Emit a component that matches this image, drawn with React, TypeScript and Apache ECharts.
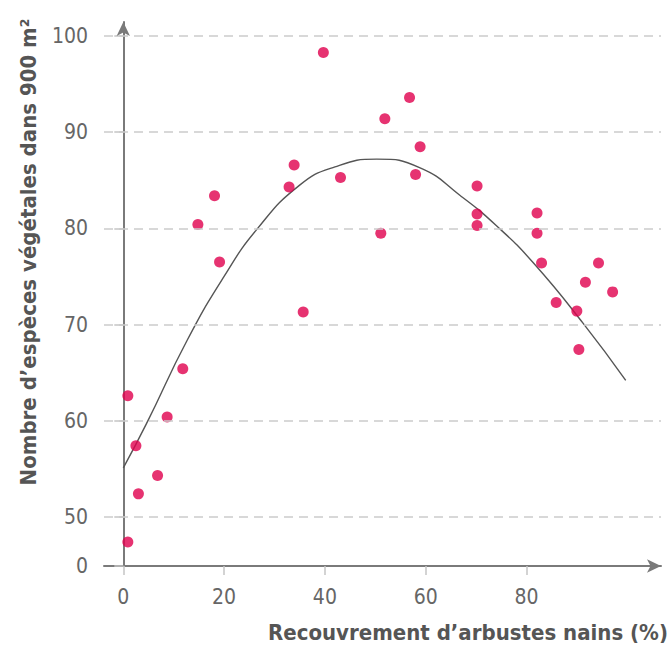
import React, { useEffect, useRef } from "react";
import * as echarts from "echarts";

// ---- data ----
const xTickValues = [0, 20, 40, 60, 80];
const yTickValues = [50, 60, 70, 80, 90, 100];
const yZeroPosition = 44.9; // broken axis: where the "0" label sits

const coverX = [0.9, 2.5, 3.0, 0.9, 6.8, 8.7, 11.8, 14.8, 18.1, 19.1, 32.9, 33.9, 35.7, 39.7, 43.1, 51.1, 51.9, 56.8, 58.9, 58.0, 70.2, 70.2, 70.2, 82.1, 82.1, 83.0, 85.9, 90.0, 91.7, 90.4, 94.3, 97.1];
const speciesY = [62.6, 57.4, 52.4, 47.4, 54.3, 60.4, 65.4, 80.4, 83.4, 76.5, 84.3, 86.6, 71.3, 98.3, 85.3, 79.5, 91.4, 93.6, 88.5, 85.6, 84.4, 81.5, 80.3, 81.6, 79.5, 76.4, 72.3, 71.4, 74.4, 67.4, 76.4, 73.4];

const curveX = [0, 4.6, 12.7, 20.0, 26.5, 35.0, 42.0, 50.3, 58.9, 66.9, 74.0, 81.4, 91.3, 99.7];
const curveY = [55.1, 59.7, 68.4, 75.0, 79.9, 84.5, 86.4, 87.2, 86.3, 83.4, 80.3, 76.4, 70.1, 64.2];

const xTitle = "Recouvrement d\u2019arbustes nains (%)";
const yTitle = "Nombre d\u2019esp\u00e8ces v\u00e9g\u00e9tales dans 900 m\u00b2";

const labelFont = "'Liberation Sans Narrow', 'DejaVu Sans Condensed', sans-serif";

export default function App() {
  const ref = useRef<HTMLDivElement>(null);

  useEffect(() => {
    if (!ref.current) return;
    const chart = echarts.init(ref.current, undefined, { renderer: "svg" });
    const points = coverX.map((x, i) => [x, speciesY[i]]);
    const curve = curveX.map((x, i) => [x, curveY[i]]);

    chart.setOption({
      animation: false,
      backgroundColor: "#ffffff",
      grid: { left: 104, right: 9, top: 22, bottom: 82 },
      xAxis: {
        type: "value",
        min: -3.83,
        max: 106.7,
        axisLine: {
          show: true,
          symbol: ["none", "arrow"],
          symbolSize: [10, 14],
          lineStyle: { color: "#7a7a7a", width: 2 },
        },
        axisTick: {
          show: true,
          length: 9,
          customValues: xTickValues,
          lineStyle: { color: "#c4c4c4", width: 1.5 },
        },
        axisLabel: {
          customValues: xTickValues,
          fontSize: 21,
          color: "#666666",
          fontFamily: labelFont,
          margin: 20,
        },
        splitLine: { show: false },
      },
      yAxis: {
        type: "value",
        min: yZeroPosition,
        max: 101.46,
        axisLine: {
          show: true,
          symbol: ["none", "arrow"],
          symbolSize: [10, 14],
          lineStyle: { color: "#7a7a7a", width: 2 },
        },
        axisTick: {
          show: true,
          length: 9,
          customValues: [yZeroPosition, ...yTickValues],
          lineStyle: { color: "#c4c4c4", width: 1.5 },
        },
        axisLabel: {
          customValues: [yZeroPosition, ...yTickValues],
          formatter: (v: number) => (v < 49 ? "0" : String(Math.round(v))),
          fontSize: 21,
          color: "#666666",
          fontFamily: labelFont,
          margin: 16,
        },
        splitLine: { show: false },
      },
      series: [
        {
          type: "line",
          data: curve,
          smooth: 0.5,
          showSymbol: false,
          z: 2,
          lineStyle: { color: "#555555", width: 1.4 },
          markLine: {
            silent: true,
            symbol: ["none", "none"],
            label: { show: false },
            lineStyle: { color: "#cccccc", width: 1.5, type: [9, 6] },
            emphasis: { disabled: true },
            data: yTickValues.map((v) => ({ yAxis: v })),
          },
        },
        {
          type: "scatter",
          data: points,
          symbolSize: 11,
          z: 3,
          itemStyle: { color: "#e0004d" },
        },
      ],
      graphic: [
        {
          type: "text",
          x: 668,
          y: 632,
          style: {
            text: xTitle,
            font: `bold 22px ${labelFont}`,
            fill: "#555555",
            align: "right",
            verticalAlign: "middle",
          },
        },
        {
          type: "text",
          x: 28,
          y: 252,
          rotation: Math.PI / 2,
          style: {
            text: yTitle,
            font: `bold 22px ${labelFont}`,
            fill: "#555555",
            align: "center",
            verticalAlign: "middle",
          },
        },
      ],
    });

    return () => chart.dispose();
  }, []);

  return (
    <div
      ref={ref}
      style={{ position: "absolute", left: 0, top: 0, width: 670, height: 648 }}
    />
  );
}
